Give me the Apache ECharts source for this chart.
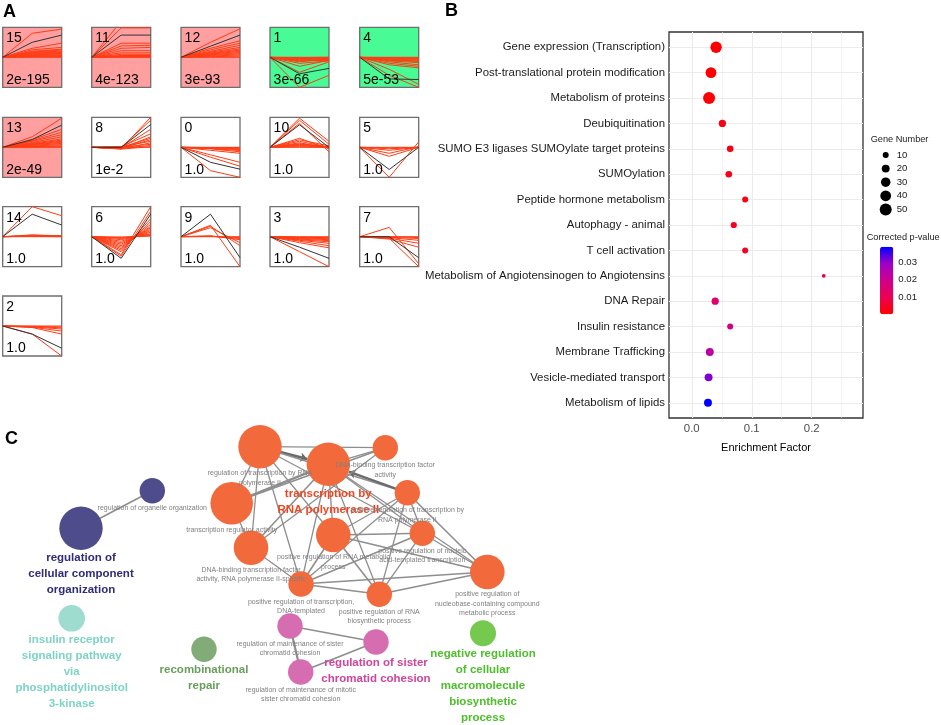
<!DOCTYPE html>
<html><head><meta charset="utf-8">
<script src="https://cdn.jsdelivr.net/npm/echarts@6/dist/echarts.min.js"></script>
<style>html,body{margin:0;padding:0;background:#fff}#c{width:941px;height:725px}</style>
</head><body><div id="c"></div><script>
// ================= DATA =================
// ---- Panel A: STEM temporal profiles ----
const profileIds = ['15','11','12','1','4','13','8','0','10','5','14','6','9','3','7','2'];
const profilePvals = ['2e-195','4e-123','3e-93','3e-66','5e-53','2e-49','1e-2','1.0','1.0','1.0','1.0','1.0','1.0','1.0','1.0','1.0'];
const profileTrend = ['up','up','up','down','down','up','none','none','none','none','none','none','none','none','none','none'];
const modelProfiles = [
  [0,0.5,0.74],[0,0.74,0.74],[0,0.37,0.74],[0,-0.55,-0.37],[0,-0.72,-0.74],
  [0,0.26,0.74],[0,0,0.76],[0,-0.5,-0.73],[0,0.75,0],[0,-0.74,0],
  [0,0.75,0.39],[0,-0.72,0.75],[0,0.75,-0.7],[0,-0.35,-0.72],[0,0,-0.7],
  [0,-0.27,-0.74]
];
const geneProfiles = [
  [[0,0.8,0.94],[0,0.3,0.47],[0,0.25,0.33],[0,0.2,0.27],[0,0.18,0.24],[0,0.16,0.21],[0,0.14,0.18],[0,0.12,0.16],[0,0.1,0.13],[0,0.08,0.11],[0,0.06,0.08],[0,0.04,0.06],[0,0.03,0.04],[0,0.02,0.02],[0,0,0]],
  [[0,1.2,1.2],[0,0.98,0.98],[0,0.47,0.47],[0,0.38,0.4],[0,0.3,0.33],[0,0.22,0.22],[0,0.15,0.15],[0,0.1,0.1],[0,0.06,0.06],[0,0.04,0.04],[0,0.02,0.02],[0,0.01,0.01],[0,0,0]],
  [[0,0.5,0.95],[0,0.3,0.55],[0,0.25,0.47],[0,0.2,0.4],[0,0.17,0.33],[0,0.14,0.28],[0,0.12,0.24],[0,0.1,0.2],[0,0.08,0.16],[0,0.06,0.12],[0,0.04,0.08],[0,0.02,0.04],[0,0,0]],
  [[0,-1.0,-0.6],[0,-0.5,-0.15],[0,-0.3,-0.1],[0,-0.2,-0.12],[0,-0.15,-0.05],[0,-0.12,-0.1],[0,-0.1,-0.08],[0,-0.08,-0.06],[0,-0.06,-0.04],[0,-0.04,-0.03],[0,-0.03,-0.02],[0,-0.01,0],[0,0,0]],
  [[0,-0.6,-1.0],[0,-0.4,-0.9],[0,-0.25,-0.35],[0,-0.2,-0.3],[0,-0.15,-0.25],[0,-0.12,-0.18],[0,-0.1,-0.14],[0,-0.08,-0.12],[0,-0.06,-0.09],[0,-0.05,-0.06],[0,-0.03,-0.04],[0,-0.01,-0.02],[0,0,0]],
  [[0,0.35,0.97],[0,0.25,0.6],[0,0.22,0.5],[0,0.2,0.42],[0,0.16,0.35],[0,0.13,0.28],[0,0.11,0.24],[0,0.1,0.2],[0,0.08,0.17],[0,0.06,0.13],[0,0.04,0.09],[0,0.02,0.05],[0,0.01,0.02],[0,0,0]],
  [[0,-0.05,1.0],[0,0,0.9],[0,-0.02,0.6],[0,0.02,0.45],[0,-0.04,0.35],[0,0,0.3],[0,-0.03,0.25],[0,0.02,0.2],[0,-0.05,0.15],[0,0,0.1],[0,-0.03,0.06],[0,-0.06,0.02],[0,0,0]],
  [[0,-0.78,-1.0],[0,-0.33,-0.63],[0,-0.25,-0.5],[0,-0.1,-0.2],[0,-0.05,-0.15],[0,-0.04,-0.11],[0,-0.03,-0.08],[0,-0.02,-0.05],[0,-0.01,-0.03],[0,-0.01,-0.01],[0,0,0]],
  [[0,0.97,0.2],[0,0.9,0.1],[0,0.8,-0.15],[0,0.3,-0.05],[0,0.25,0.05],[0,0.2,0],[0,0.15,-0.02],[0,0.12,0],[0,0.1,0.02],[0,0.07,0],[0,0.05,0],[0,0.02,0],[0,0,0]],
  [[0,-1.0,0.18],[0,-0.3,0],[0,-0.2,0.02],[0,-0.1,0],[0,-0.05,0],[0,-0.02,0],[0,0,0]],
  [[0,1.0,0.7],[0,0.06,0.03],[0,0.05,0.02],[0,0.03,0.02],[0,0.02,0.01],[0,0.01,0],[0,0,0]],
  [[0,-0.6,1.0],[0,-0.65,0.85],[0,-0.5,0.6],[0,-0.45,0.5],[0,-0.4,0.42],[0,-0.35,0.35],[0,-0.3,0.3],[0,-0.25,0.25],[0,-0.2,0.2],[0,-0.15,0.15],[0,-0.1,0.1],[0,-0.06,0.07],[0,-0.03,0.04],[0,-0.01,0.02]],
  [[0,0.38,-1.0],[0,0.35,-0.3],[0,0.3,-0.2],[0,0.03,-0.1],[0,0.02,-0.06],[0,0.01,-0.03],[0,0,0]],
  [[0,-0.5,-1.0],[0,-0.2,-0.37],[0,-0.15,-0.3],[0,-0.12,-0.22],[0,-0.1,-0.17],[0,-0.08,-0.13],[0,-0.06,-0.1],[0,-0.04,-0.07],[0,-0.03,-0.05],[0,-0.02,-0.03],[0,0,0]],
  [[0,0.31,-0.9],[0,-0.05,-1.0],[0,-0.08,-0.35],[0,-0.05,-0.22],[0,-0.03,-0.12],[0,-0.02,-0.06],[0,0,-0.03],[0,0,0]],
  [[0,-0.27,-1.0],[0,-0.05,-0.27],[0,-0.04,-0.17],[0,-0.03,-0.1],[0,-0.02,-0.06],[0,-0.01,-0.03],[0,0,0]]
];

// ---- Panel B: pathway enrichment ----
const pathways = ['Gene expression (Transcription)','Post-translational protein modification','Metabolism of proteins','Deubiquitination','SUMO E3 ligases SUMOylate target proteins','SUMOylation','Peptide hormone metabolism','Autophagy - animal','T cell activation','Metabolism of Angiotensinogen to Angiotensins','DNA Repair','Insulin resistance','Membrane Trafficking','Vesicle-mediated transport','Metabolism of lipids'];
const enrichment = [0.0405,0.032,0.0288,0.051,0.064,0.0617,0.089,0.070,0.089,0.22,0.039,0.064,0.030,0.028,0.027];
const geneNumber = [45,40,50,16,13,13,10,11,10,2,16,10,20,20,20];
const correctedP = [0.0002,0.0002,0.0002,0.002,0.003,0.003,0.002,0.004,0.004,0.008,0.014,0.018,0.023,0.031,0.039];
const xTicks = [0, 0.1, 0.2];
const xMinorTicks = [0.05, 0.15, 0.25];
const sizeLegendValues = [10,20,30,40,50];
const pLegendTicks = [0.01,0.02,0.03];

// ---- Panel C: ClueGO network ----
const termNames = ['regulation of organelle organization','regulation of cellular component organization','insulin receptor signaling pathway via phosphatidylinositol 3-kinase','recombinational repair','regulation of transcription by RNA polymerase II','transcription by RNA polymerase II','DNA-binding transcription factor activity','transcription regulator activity','positive regulation of transcription by RNA polymerase II','positive regulation of RNA metabolic process','positive regulation of nucleic acid-templated transcription','DNA-binding transcription factor activity, RNA polymerase II-specific','positive regulation of nucleobase-containing compound metabolic process','positive regulation of transcription, DNA-templated','positive regulation of RNA biosynthetic process','regulation of maintenance of sister chromatid cohesion','regulation of sister chromatid cohesion','regulation of maintenance of mitotic sister chromatid cohesion','negative regulation of cellular macromolecule biosynthetic process'];
const termLabels = ['regulation of organelle organization','regulation of\ncellular component\norganization','insulin receptor\nsignaling pathway\nvia\nphosphatidylinositol\n3-kinase','recombinational\nrepair','regulation of transcription by RNA\npolymerase II','transcription by\nRNA polymerase II','DNA-binding transcription factor\nactivity','transcription regulator activity','positive regulation of transcription by\nRNA polymerase II','positive regulation of RNA metabolic\nprocess','positive regulation of nucleic\nacid-templated transcription','DNA-binding transcription factor\nactivity, RNA polymerase II-specific','positive regulation of\nnucleobase-containing compound\nmetabolic process','positive regulation of transcription,\nDNA-templated','positive regulation of RNA\nbiosynthetic process','regulation of maintenance of sister\nchromatid cohesion','regulation of sister\nchromatid cohesion','regulation of maintenance of mitotic\nsister chromatid cohesion','negative regulation\nof cellular\nmacromolecule\nbiosynthetic\nprocess'];
const termX = [152.3,81,71.7,204,260,328.3,385.3,231.7,407.3,333.3,422.3,251,487.3,301,379.3,290,376,300.7,483];
const termY = [70.7,108.3,198.3,229.3,26.7,44.3,27.7,83.3,72.7,115,113.3,127.7,152,164,174.3,206,222,252,213.3];
const termSize = [25.4,43.4,26.6,25.4,43.4,43.4,25.4,42.6,25.4,34.6,25.4,34.6,34.6,25.4,25.4,25.4,25.4,25.4,26];
const termGroup = [0,0,1,2,3,3,3,3,3,3,3,3,3,3,3,4,4,4,5];
const termLeader = [0,1,1,1,0,1,0,0,0,0,0,0,0,0,0,0,1,0,1];
const groupNodeColors = ['#4f4c8c','#9ddccf','#82ac77','#f26a3b','#d66db0','#75c94e'];
const groupLabelColors = ['#2f2c7a','#7dd4c4','#6a9e5c','#ef4621','#d2449c','#4cbf2a'];
const termEdges = [
  [0,1,1.6],
  [4,6,1.3],[4,5,2.6,1],[4,7,1.3],[4,11,1.3],[4,13,1.3],[4,9,1.3],[4,10,1.3],[4,8,1.6],
  [5,6,1.3],[5,7,2.4],[8,5,2.2,1],[5,9,1.3],[5,11,1.6],[5,13,1.3],[5,14,1.3],[5,10,1.3],[5,12,1.3],
  [6,7,1.6],[6,11,1.3],[7,11,1.3],
  [8,9,1.3],[8,10,1.3],[8,12,1.6],[8,13,1.3],[8,14,1.3],
  [9,10,1.6],[9,12,1.6],[9,13,1.6],[9,14,1.6],
  [10,12,1.3],[10,13,1.6],[10,14,1.3],[11,13,1.3],
  [12,13,1.6],[12,14,1.6],[13,14,1.6],
  [15,16,1.6],[15,17,2.2],[17,16,1.6]
];

// ================= LAYOUT / STYLE =================
const FONT = '"Liberation Sans", Arial, Helvetica, sans-serif';
const grids = [], xAxes = [], yAxes = [], series = [], graphics = [];

// Panel A
const boxW = 59, boxH = 60;
const colX = [2.7, 91.7, 181, 270, 359.7];
const rowY = [27.3, 117.3, 206.7, 296];
const trendFill = {up: '#ff9f9f', down: '#48fb95', none: '#ffffff'};
profileIds.forEach((id, i) => {
  const left = colX[i % 5], top = rowY[Math.floor(i / 5)];
  const gi = grids.length;
  grids.push({left, top, width: boxW, height: boxH, show: true, backgroundColor: trendFill[profileTrend[i]], borderColor: '#6e6e6e', borderWidth: 1.3});
  xAxes.push({type: 'value', gridIndex: gi, min: 0, max: 2, show: false});
  yAxes.push({type: 'value', gridIndex: gi, min: -1, max: 1, show: false});
  geneProfiles[i].forEach(g => series.push({
    type: 'line', xAxisIndex: gi, yAxisIndex: gi, data: g.map((v, k) => [k, v]),
    symbol: 'none', silent: true, z: 2, lineStyle: {color: '#ff3c14', width: 1}
  }));
  series.push({
    type: 'line', xAxisIndex: gi, yAxisIndex: gi, data: modelProfiles[i].map((v, k) => [k, v]),
    symbol: 'none', silent: true, z: 3, lineStyle: {color: '#333333', width: 1}
  });
  graphics.push({type: 'text', z: 100, style: {text: id, x: left + 3.6, y: top + 11, font: '14px ' + FONT, fill: '#000', verticalAlign: 'middle'}});
  graphics.push({type: 'text', z: 100, style: {text: profilePvals[i], x: left + 3.6, y: top + boxH - 7.6, font: '14px ' + FONT, fill: '#000', verticalAlign: 'middle'}});
});

// Panel letters
[['A', 3, 12], ['B', 445, 11], ['C', 5, 439]].forEach(([t, x, y]) => graphics.push({
  type: 'text', z: 100, style: {text: t, x, y, font: 'bold 18px ' + FONT, fill: '#000', verticalAlign: 'middle'}
}));

// Panel B dot plot
const gB = grids.length;
grids.push({left: 669, top: 32, width: 194, height: 386, show: true, backgroundColor: '#ffffff', borderColor: '#333333', borderWidth: 1.3});
xAxes.push({
  type: 'value', gridIndex: gB, min: -0.038, max: 0.2855,
  name: 'Enrichment Factor', nameLocation: 'middle', nameGap: 24,
  nameTextStyle: {fontSize: 11, color: '#000', fontFamily: FONT},
  axisLine: {show: false}, splitLine: {show: false},
  axisTick: {show: true, customValues: xTicks, length: 3.5, lineStyle: {color: '#333', width: 1}},
  axisLabel: {customValues: xTicks, formatter: v => v.toFixed(1), fontSize: 11.4, color: '#4d4d4d', margin: 5, fontFamily: FONT}
});
const yIdx = pathways.map((_, i) => i);
yAxes.push({
  type: 'value', gridIndex: gB, min: -0.6, max: 14.6, inverse: true,
  axisLine: {show: false}, splitLine: {show: false},
  axisTick: {show: true, customValues: yIdx, length: 3.5, lineStyle: {color: '#333', width: 1}},
  axisLabel: {customValues: yIdx, formatter: v => pathways[Math.round(v)], fontSize: 11.4, color: '#1a1a1a', margin: 4, fontFamily: FONT}
});
const gridLineStyle = w => ({color: '#ebebeb', width: w, type: 'solid'});
series.push({
  type: 'scatter', xAxisIndex: gB, yAxisIndex: gB, data: [[0, 0]], symbolSize: 0, silent: true, z: 1,
  markLine: {
    silent: true, symbol: 'none', label: {show: false}, animation: false,
    data: [
      ...xMinorTicks.map(v => ({xAxis: v, lineStyle: gridLineStyle(0.6)})),
      ...xTicks.map(v => ({xAxis: v, lineStyle: gridLineStyle(1.1)})),
      ...yIdx.map(v => ({yAxis: v, lineStyle: gridLineStyle(1.1)}))
    ]
  }
});
const dotSeriesIndex = series.length;
const dotSize = n => Math.sqrt(9 + 2.7 * n);
series.push({
  type: 'scatter', xAxisIndex: gB, yAxisIndex: gB, z: 5, silent: true,
  data: pathways.map((p, i) => [enrichment[i], i, geneNumber[i], correctedP[i]]),
  symbolSize: d => dotSize(d[2]), itemStyle: {opacity: 1}
});

// Size legend
const gS = grids.length;
grids.push({left: 879.7, top: 148.2, width: 12, height: 68});
xAxes.push({type: 'value', gridIndex: gS, min: -1, max: 1, show: false});
yAxes.push({
  type: 'category', gridIndex: gS, data: sizeLegendValues.map(String), inverse: true, position: 'right',
  axisLine: {show: false}, axisTick: {show: false}, splitLine: {show: false},
  axisLabel: {fontSize: 9.6, color: '#1a1a1a', margin: 5, fontFamily: FONT}
});
series.push({
  type: 'scatter', xAxisIndex: gS, yAxisIndex: gS, silent: true, z: 5,
  data: sizeLegendValues.map((v, i) => [0, i, v]),
  symbolSize: d => dotSize(d[2]), itemStyle: {color: '#000', opacity: 1}
});
graphics.push({type: 'text', z: 100, style: {text: 'Gene Number', x: 870.7, y: 139.3, font: '9.2px ' + FONT, fill: '#1a1a1a', verticalAlign: 'middle'}});
graphics.push({type: 'text', z: 100, style: {text: 'Corrected p-value', x: 866.7, y: 237.7, font: '9.2px ' + FONT, fill: '#1a1a1a', verticalAlign: 'middle'}});

// Colour bar axis
const gP = grids.length;
grids.push({left: 880, top: 246.7, width: 13.3, height: 67.6});
xAxes.push({type: 'value', gridIndex: gP, min: 0, max: 1, show: false});
yAxes.push({
  type: 'value', gridIndex: gP, min: 0, max: 0.039, position: 'right', z: 20,
  axisLine: {show: false}, splitLine: {show: false},
  axisTick: {show: true, inside: true, customValues: pLegendTicks, length: 2.7, lineStyle: {color: '#fff', width: 1}},
  axisLabel: {customValues: pLegendTicks, formatter: v => v.toFixed(2), fontSize: 9.6, color: '#1a1a1a', margin: 5, fontFamily: FONT}
});

// Panel C network
const gC = grids.length;
grids.push({left: 0, top: 420, width: 640, height: 305});
xAxes.push({type: 'value', gridIndex: gC, min: 0, max: 640, show: false});
yAxes.push({type: 'value', gridIndex: gC, min: 0, max: 305, inverse: true, show: false});
series.push({
  type: 'graph', coordinateSystem: 'cartesian2d', xAxisIndex: gC, yAxisIndex: gC, layout: 'none',
  silent: true, z: 3, animation: false,
  data: termNames.map((n, i) => ({
    name: n, value: [termX[i], termY[i]], symbolSize: termSize[i],
    itemStyle: {color: groupNodeColors[termGroup[i]]},
    label: termLeader[i] ? {
      show: true, position: 'bottom', distance: 0, formatter: termLabels[i], align: 'center',
      fontSize: 11.5, fontWeight: 'bold', lineHeight: 16, color: groupLabelColors[termGroup[i]], fontFamily: FONT
    } : {
      show: true, position: 'bottom', distance: 0.5, formatter: termLabels[i], align: 'center',
      fontSize: 7, lineHeight: 9.3, color: '#808080', fontFamily: FONT
    }
  })),
  links: termEdges.map(e => e[3] ? {
    source: e[0], target: e[1], symbol: ['none', 'arrow'], symbolSize: [3, 7],
    lineStyle: {width: e[2], color: '#6a6a6a'}
  } : {source: e[0], target: e[1], lineStyle: {width: e[2]}}),
  lineStyle: {color: '#8e8e8e', opacity: 1, curveness: 0}
});

const option = {
  animation: false,
  backgroundColor: '#ffffff',
  textStyle: {fontFamily: FONT},
  grid: grids, xAxis: xAxes, yAxis: yAxes, series,
  visualMap: [{
    type: 'continuous', seriesIndex: dotSeriesIndex, dimension: 3, min: 0, max: 0.039,
    left: 880, top: 246.7, itemWidth: 13.3, itemHeight: 67.6, padding: 0, calculable: false,
    orient: 'vertical', inRange: {color: ['#ff0000', '#ec0052', '#cf008c', '#a000c8', '#0000ff']},
    textStyle: {fontSize: 9.6}
  }],
  graphic: graphics
};
const chart = echarts.init(document.getElementById('c'));
chart.setOption(option);
</script></body></html>
